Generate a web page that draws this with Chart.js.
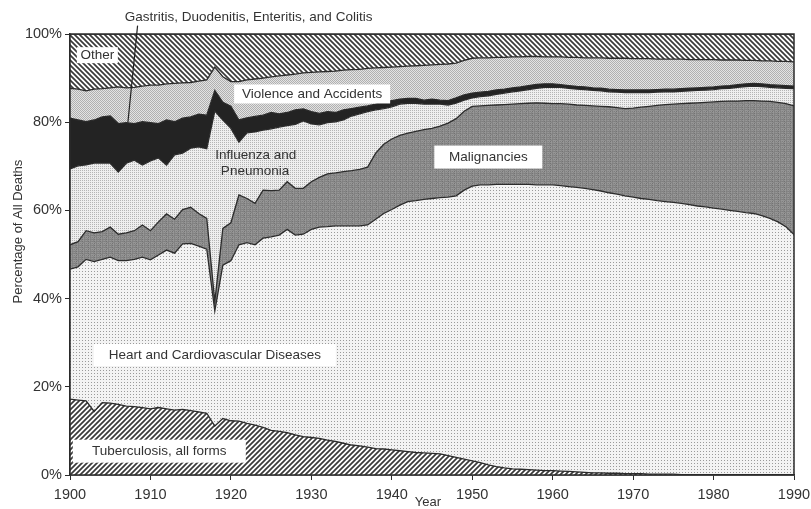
<!DOCTYPE html>
<html>
<head>
<meta charset="utf-8">
<script src="https://cdn.jsdelivr.net/npm/chart.js@4.4.1/dist/chart.umd.min.js"></script>
<style>
  body { margin: 0; background: #fff; }
  #wrap { width: 811px; height: 509px; position: relative; }
</style>
</head>
<body>
<div id="wrap"><canvas id="causesOfDeath"></canvas></div>
<script>
// years 1900..1990
const years = Array.from({ length: 91 }, (_, i) => 1900 + i);

// percentage of all deaths, one value per year
const tuberculosis = [
  17.2, 17.0, 16.8, 14.4, 16.4, 16.3, 16.0, 15.6, 15.5, 15.3,
  15.0, 15.3, 15.0, 14.7, 14.9, 14.6, 14.3, 14.0, 11.1, 12.8,
  12.3, 12.2, 11.7, 11.3, 10.8, 10.1, 9.9, 9.6, 9.1, 8.7,
  8.5, 8.3, 7.9, 7.6, 7.2, 6.8, 6.6, 6.3, 6.0, 5.9,
  5.7, 5.5, 5.3, 5.1, 5.0, 4.9, 4.8, 4.4, 4.0, 3.6,
  3.2, 2.8, 2.3, 1.9, 1.6, 1.4, 1.3, 1.2, 1.1, 1.0,
  1.0, 0.9, 0.8, 0.7, 0.6, 0.5, 0.5, 0.4, 0.4, 0.3,
  0.3, 0.3, 0.2, 0.2, 0.2, 0.2, 0.1, 0.1, 0.1, 0.1,
  0.1, 0.1, 0.1, 0.1, 0.1, 0.1, 0.1, 0.1, 0.1, 0.1, 0.1
];
const heart = [
  29.5, 30.2, 32.1, 34.0, 32.5, 33.1, 32.6, 33.0, 33.4, 34.1,
  33.8, 34.6, 36.0, 35.6, 37.5, 37.9, 37.6, 37.2, 26.1, 34.8,
  36.3, 40.0, 41.0, 40.9, 42.9, 43.9, 44.5, 46.1, 45.3, 45.9,
  47.2, 47.9, 48.4, 48.9, 49.3, 49.7, 49.9, 50.4, 52.0, 53.4,
  54.5, 55.7, 56.7, 57.1, 57.5, 57.8, 58.1, 58.6, 59.3, 61.0,
  62.3, 63.0, 63.5, 64.0, 64.3, 64.5, 64.6, 64.7, 64.7, 64.8,
  64.8, 64.7, 64.6, 64.5, 64.4, 64.2, 63.9, 63.6, 63.3, 63.0,
  62.7, 62.4, 62.3, 62.0, 61.8, 61.6, 61.5, 61.2, 60.9, 60.7,
  60.4, 60.2, 59.9, 59.7, 59.4, 59.2, 58.7, 58.1, 57.3, 56.2, 54.4
];
const malignancies = [
  5.5, 5.7, 6.5, 6.5, 6.3, 6.8, 6.0, 6.3, 6.5, 7.3,
  6.6, 7.5, 8.2, 7.7, 7.8, 8.2, 7.4, 7.0, 2.1, 8.3,
  8.6, 11.3, 10.0, 9.4, 10.9, 10.5, 10.2, 10.8, 10.6, 10.4,
  10.8, 11.3, 12.0, 12.0, 12.3, 12.5, 12.8, 13.1, 15.0, 15.7,
  16.0, 15.8, 15.5, 15.7, 15.8, 15.9, 16.2, 16.8, 17.5, 17.9,
  18.1, 17.9, 18.0, 18.0, 18.1, 18.2, 18.3, 18.4, 18.6, 18.5,
  18.4, 18.6, 18.7, 18.7, 18.8, 19.0, 19.2, 19.5, 19.6, 19.8,
  20.2, 20.7, 21.1, 21.6, 22.0, 22.3, 22.6, 23.0, 23.4, 23.7,
  24.1, 24.4, 24.8, 25.0, 25.4, 25.6, 26.0, 26.5, 27.1, 27.9, 29.2
];
const influenza = [
  17.2, 17.2, 14.9, 15.8, 15.5, 14.5, 14.1, 15.8, 16.0, 13.6,
  15.8, 14.5, 11.1, 14.6, 12.8, 13.4, 15.1, 15.8, 43.2, 24.6,
  21.4, 12.0, 14.9, 16.2, 13.6, 14.0, 14.3, 12.7, 14.5, 15.3,
  13.1, 11.9, 11.6, 11.6, 11.7, 12.4, 12.6, 12.6, 9.8, 8.1,
  7.3, 7.1, 6.8, 6.4, 5.8, 5.5, 5.0, 4.1, 3.5, 2.5,
  1.9, 2.1, 2.2, 2.4, 2.6, 2.8, 2.9, 3.1, 3.3, 3.6,
  3.7, 3.7, 3.6, 3.6, 3.6, 3.5, 3.5, 3.4, 3.5, 3.6,
  3.5, 3.3, 3.1, 3.0, 2.9, 2.8, 2.8, 2.8, 2.8, 2.8,
  2.8, 2.9, 2.9, 3.1, 3.2, 3.3, 3.3, 3.2, 3.3, 3.5, 3.9
];
const gastritis = [
  11.5, 10.4, 9.8, 9.8, 10.5, 10.7, 11.0, 9.2, 8.3, 9.8,
  8.7, 7.8, 10.2, 7.5, 7.9, 7.1, 7.4, 7.6, 4.7, 4.0,
  5.0, 5.0, 3.4, 3.5, 3.4, 3.7, 3.0, 3.0, 3.3, 2.7,
  2.8, 2.6, 2.5, 2.1, 2.3, 1.7, 1.5, 1.3, 1.3, 1.5,
  1.4, 1.1, 1.1, 1.1, 0.9, 1.1, 0.9, 1.0, 1.2, 1.2,
  1.1, 1.0, 1.0, 1.0, 0.9, 0.9, 0.9, 0.9, 0.9, 0.8,
  0.8, 0.6, 0.6, 0.6, 0.6, 0.6, 0.6, 0.6, 0.6, 0.6,
  0.6, 0.6, 0.6, 0.6, 0.6, 0.6, 0.6, 0.6, 0.6, 0.6,
  0.6, 0.6, 0.6, 0.6, 0.6, 0.6, 0.6, 0.6, 0.6, 0.6, 0.6
];
const violence = [
  6.8, 7.0, 7.0, 7.0, 6.4, 6.4, 8.3, 7.9, 8.2, 8.1,
  8.5, 8.7, 8.2, 8.7, 8.0, 7.8, 7.5, 8.0, 5.3, 5.8,
  5.6, 8.7, 8.6, 8.5, 8.4, 8.1, 8.6, 8.5, 8.1, 8.2,
  8.9, 9.4, 9.1, 9.4, 9.0, 8.8, 8.6, 8.5, 8.2, 7.8,
  7.6, 7.4, 7.3, 7.4, 7.9, 7.8, 8.1, 8.3, 7.9, 7.8,
  7.9, 7.8, 7.6, 7.4, 7.2, 7.0, 6.8, 6.6, 6.3, 6.1,
  6.1, 6.3, 6.4, 6.6, 6.6, 6.8, 6.9, 7.0, 7.1, 7.2,
  7.1, 7.1, 7.1, 6.9, 6.8, 6.8, 6.7, 6.5, 6.4, 6.3,
  6.2, 5.9, 5.8, 5.6, 5.3, 5.2, 5.2, 5.4, 5.4, 5.5, 5.5
];
const other = [
  12.3, 12.5, 12.9, 12.5, 12.4, 12.2, 12.0, 12.2, 12.1, 11.8,
  11.6, 11.6, 11.3, 11.2, 11.1, 11.0, 10.7, 10.4, 7.5, 9.7,
  10.8, 10.8, 10.4, 10.2, 10.0, 9.7, 9.5, 9.3, 9.1, 8.8,
  8.7, 8.6, 8.5, 8.4, 8.2, 8.1, 8.0, 7.8, 7.7, 7.6,
  7.5, 7.4, 7.3, 7.2, 7.1, 7.0, 6.9, 6.8, 6.6, 6.0,
  5.5, 5.4, 5.4, 5.3, 5.3, 5.2, 5.2, 5.1, 5.1, 5.2,
  5.2, 5.2, 5.3, 5.3, 5.4, 5.4, 5.4, 5.5, 5.5, 5.5,
  5.6, 5.6, 5.6, 5.7, 5.7, 5.7, 5.7, 5.8, 5.8, 5.8,
  5.8, 5.9, 5.9, 5.9, 6.0, 6.0, 6.1, 6.1, 6.2, 6.2, 6.3
];

const yTicks = [0, 20, 40, 60, 80, 100];
const xTicks = [1900, 1910, 1920, 1930, 1940, 1950, 1960, 1970, 1980, 1990];

const font = "'Liberation Sans', Arial, sans-serif";
const ink = '#333';

// ---- fill patterns (greyscale, like the printed figure) ----
function makePattern(size, draw) {
  const c = document.createElement('canvas');
  c.width = size; c.height = size;
  const g = c.getContext('2d');
  draw(g, size);
  return g.createPattern(c, 'repeat');
}
function hatch(forward) {
  return makePattern(5, (g, s) => {
    g.fillStyle = '#fff';
    g.fillRect(0, 0, s, s);
    g.strokeStyle = '#3a3a3a';
    g.lineWidth = 1.7;
    g.beginPath();
    if (forward) {
      g.moveTo(-1, s + 1); g.lineTo(s + 1, -1);
      g.moveTo(-1, 1); g.lineTo(1, -1);
      g.moveTo(s - 1, s + 1); g.lineTo(s + 1, s - 1);
    } else {
      g.moveTo(-1, -1); g.lineTo(s + 1, s + 1);
      g.moveTo(-1, s - 1); g.lineTo(1, s + 1);
      g.moveTo(s - 1, -1); g.lineTo(s + 1, 1);
    }
    g.stroke();
  });
}
function stipple(size, bg, dot, dots) {
  return makePattern(size, (g, s) => {
    g.fillStyle = bg;
    g.fillRect(0, 0, s, s);
    g.fillStyle = dot;
    dots.forEach(([x, y]) => g.fillRect(x, y, 1, 1));
  });
}
const mottled = makePattern(6, (g, s) => {
  const shades = ['#858585', '#777777', '#909090', '#7f7f7f', '#979797', '#737373'];
  for (let y = 0; y < s; y++) {
    for (let x = 0; x < s; x++) {
      g.fillStyle = shades[(x * 2 + y * 3 + (x * y) % 4) % shades.length];
      g.fillRect(x, y, 1, 1);
    }
  }
});

const fills = {
  tb: hatch(true),
  heart: stipple(3, '#f3f3f3', '#9a9a9a', [[1, 1]]),
  malig: mottled,
  flu: stipple(2, '#eeeeee', '#b4b4b4', [[0, 0]]),
  gas: '#232323',
  vio: stipple(2, '#e3e3e3', '#b0b0b0', [[0, 0], [1, 1]]),
  other: hatch(false)
};

function layer(label, values, bg, fill) {
  return {
    label: label,
    data: values.map((v, i) => ({ x: years[i], y: v })),
    backgroundColor: bg,
    borderColor: '#2b2b2b',
    borderWidth: 1.3,
    pointRadius: 0,
    tension: 0,
    fill: fill
  };
}

// text boxes placed in data units (year, percent)
const boxLabels = [
  { text: 'Other', year: 1903.4, pct: 95.2, w: 41, h: 16 },
  { text: 'Violence and Accidents', year: 1930.1, pct: 86.4, w: 156, h: 19 },
  { text: 'Malignancies', year: 1952.0, pct: 72.1, w: 108, h: 23 },
  { text: 'Heart and Cardiovascular Diseases', year: 1918.0, pct: 27.2, w: 242, h: 22 },
  { text: 'Tuberculosis, all forms', year: 1911.1, pct: 5.4, w: 173, h: 23 }
];
const plainLabels = [
  { text: 'Influenza and', year: 1923.1, pct: 72.6 },
  { text: 'Pneumonia', year: 1923.0, pct: 68.9 }
];

const decorations = {
  id: 'decorations',
  afterDatasetsDraw(chart) {
    const { ctx, chartArea: a, scales: { x, y } } = chart;
    ctx.save();
    // frame
    ctx.strokeStyle = '#2b2b2b';
    ctx.lineWidth = 1.5;
    ctx.strokeRect(a.left, a.top, a.right - a.left, a.bottom - a.top);

    ctx.font = '13.5px ' + font;
    ctx.textAlign = 'center';
    ctx.textBaseline = 'middle';
    boxLabels.forEach(l => {
      const px = x.getPixelForValue(l.year), py = y.getPixelForValue(l.pct);
      ctx.fillStyle = '#fff';
      ctx.fillRect(px - l.w / 2, py - l.h / 2, l.w, l.h);
      ctx.fillStyle = ink;
      ctx.fillText(l.text, px, py + 0.5);
    });
    plainLabels.forEach(l => {
      ctx.fillStyle = ink;
      ctx.fillText(l.text, x.getPixelForValue(l.year), y.getPixelForValue(l.pct));
    });

    // gastritis label above the plot with its leader line
    ctx.fillText('Gastritis, Duodenitis, Enteritis, and Colitis', x.getPixelForValue(1922.2), y.getPixelForValue(103.9));
    ctx.strokeStyle = '#222';
    ctx.lineWidth = 1.2;
    ctx.beginPath();
    ctx.moveTo(x.getPixelForValue(1908.4), y.getPixelForValue(101.9));
    ctx.lineTo(x.getPixelForValue(1907.2), y.getPixelForValue(80.0));
    ctx.stroke();

    // axis titles
    ctx.font = '13px ' + font;
    ctx.fillText('Year', x.getPixelForValue(1944.5), 502);
    ctx.translate(18, y.getPixelForValue(55.2));
    ctx.rotate(-Math.PI / 2);
    ctx.fillText('Percentage of All Deaths', 0, 0);
    ctx.restore();
  }
};

new Chart(document.getElementById('causesOfDeath'), {
  type: 'line',
  data: {
    datasets: [
      layer('Tuberculosis, all forms', tuberculosis, fills.tb, 'origin'),
      layer('Heart and Cardiovascular Diseases', heart, fills.heart, '-1'),
      layer('Malignancies', malignancies, fills.malig, '-1'),
      layer('Influenza and Pneumonia', influenza, fills.flu, '-1'),
      layer('Gastritis, Duodenitis, Enteritis, and Colitis', gastritis, fills.gas, '-1'),
      layer('Violence and Accidents', violence, fills.vio, '-1'),
      layer('Other', other, fills.other, '-1')
    ]
  },
  options: {
    responsive: true,
    maintainAspectRatio: false,
    animation: false,
    layout: { padding: { top: 34, right: 17, left: 0, bottom: 0 } },
    plugins: {
      legend: { display: false },
      tooltip: { enabled: false }
    },
    scales: {
      x: {
        type: 'linear',
        min: 1900,
        max: 1990,
        afterBuildTicks: s => { s.ticks = xTicks.map(v => ({ value: v })); },
        afterFit: s => {
          s.height = 34;
          // let "1990" hang into the margin instead of shrinking the plot
          s.paddingLeft = 0;
          s.paddingRight = 0;
        },
        ticks: {
          color: ink,
          font: { family: font, size: 14.5 },
          padding: 6,
          maxRotation: 0,
          callback: v => String(v)
        },
        grid: { drawOnChartArea: false, tickLength: 5, color: '#2b2b2b' },
        border: { color: '#2b2b2b', width: 1.5 }
      },
      y: {
        stacked: true,
        min: 0,
        max: 100,
        afterBuildTicks: s => { s.ticks = yTicks.map(v => ({ value: v })); },
        afterFit: s => { s.width = 70; },
        ticks: {
          color: ink,
          font: { family: font, size: 14.5 },
          padding: 3,
          callback: v => v + '%'
        },
        grid: { drawOnChartArea: false, tickLength: 5, color: '#2b2b2b' },
        border: { color: '#2b2b2b', width: 1.5 }
      }
    }
  },
  plugins: [decorations]
});
</script>
</body>
</html>
